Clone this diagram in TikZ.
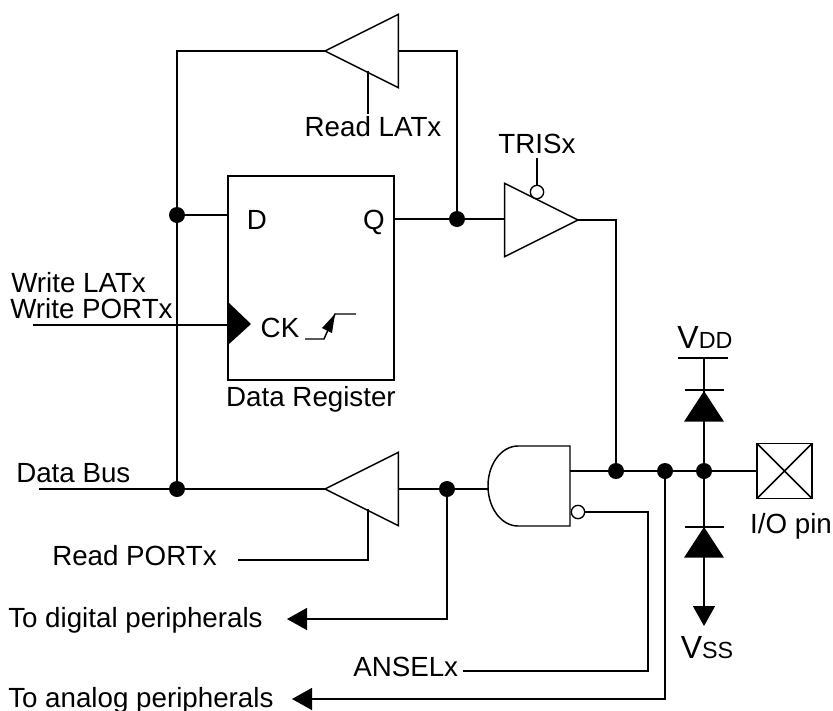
\documentclass[tikz,border=0pt]{standalone}
\usepackage{fontspec}
\setmainfont{Liberation Sans}
\usetikzlibrary{arrows.meta,shapes.geometric}
\tikzset{
	wire/.style={line width=1.1pt},
	lbl/.style={inner sep=0pt,anchor=base,font=\fontsize{20.8}{24}\selectfont},
	lbl west/.style={lbl,anchor=base west},
	dot/.style={circle,fill=black,inner sep=0pt,minimum size=12pt},
	bubble/.style={circle,draw,fill=white,line width=1pt,inner sep=0pt,minimum size=10pt},
	buffer/.style={isosceles triangle,isosceles triangle stretches,draw,line width=1.1pt,inner sep=0pt,outer sep=0pt,minimum width=55pt,minimum height=55pt},
	diode/.style={isosceles triangle,isosceles triangle stretches,fill=black,shape border rotate=90,inner sep=0pt,outer sep=0pt,minimum width=30pt,minimum height=23pt,anchor=apex},
	tap/.style={wire,-{Triangle[length=15pt,width=16.5pt]}}
}
\newcommand{\bigV}[1]{{\fontsize{24}{24}\selectfont V}{\fontsize{17.5}{24}\selectfont #1}}
\begin{document}
\begin{tikzpicture}[x=0.75pt,y=-0.75pt]
	\useasboundingbox (0,0) rectangle (833,711);

	% register
	\node[draw,line width=1.1pt,inner sep=0pt,outer sep=0pt,minimum width=124.5pt,minimum height=153pt,anchor=north west] (R) at (228,176) {};
	\node[lbl] (D) at (257,229) {D};
	\node[lbl] (Q) at (374,229) {Q};
	\node[lbl] (CK) at (280,337) {CK};
	\node[lbl] (DR) at (311,406) {Data Register};
	\fill (228,302) -- (251,324) -- (228,345) -- cycle;
	\draw[wire] (305,339) -- (324,339) -- (335,314) -- (356,314);
	\fill (335,314) -- (322,328) -- (332,333) -- cycle;

	% buffers
	\node[buffer,shape border rotate=180,anchor=apex] (BL) at (325,51) {};
	\node[buffer,shape border rotate=180,anchor=apex] (BP) at (325,489) {};
	\node[buffer,anchor=apex] (BT) at (578,220) {};

	% gate
	\draw[wire] (570,446) -- (518,446) arc[start angle=270,end angle=90,x radius=30,y radius=40] -- (570,526) -- cycle;
	\coordinate (Gin) at (488,489);
	\coordinate (Gout) at (570,471);
	\node[bubble] (Gn) at (578,512) {};

	% pin
	\node[draw,line width=1.1pt,inner sep=0pt,outer sep=0pt,minimum size=41.25pt] (P) at (784.5,471) {};
	\draw[wire] (P.north west) -- (P.south east) (P.north east) -- (P.south west);
	\node[lbl] (Pl) at (791,533) {I/O pin};

	% junctions
	\node[dot] (j1) at (177,215) {};
	\node[dot] (j2) at (177,489) {};
	\node[dot] (j3) at (457,219) {};
	\node[dot] (j4) at (447,489) {};
	\node[dot] (j5) at (616,471) {};
	\node[dot] (j6) at (665,471) {};
	\node[dot] (j7) at (704,471) {};

	% labels
	\node[lbl west] (WL) at (11,292) {Write LATx};
	\node[lbl west] (WP) at (10,318) {Write PORTx};
	\node[lbl west] (DB) at (16,482) {Data Bus};
	\node[lbl west] (RP) at (52,565) {Read PORTx};
	\node[lbl west] (TD) at (8,627) {To digital peripherals};
	\node[lbl west] (AN) at (353,676) {ANSELx};
	\node[lbl west] (TA) at (8,707) {To analog peripherals};
	\node[lbl] (RL) at (373,136) {Read LATx};
	\node[lbl] (TR) at (537,153) {TRISx};
	\node[lbl] (VD) at (705,348) {\bigV{DD}};
	\node[lbl] (VS) at (707,658) {\bigV{SS}};

	% free ends
	\coordinate (a1) at (177,51);
	\coordinate (a2) at (457,51);
	\coordinate (a3) at (616,220);
	\coordinate (c0) at (33,325);
	\coordinate (b0) at (39,489);
	\coordinate (s1) at (368,71);
	\coordinate (s2) at (368,114);
	\coordinate (s3) at (368,509);
	\coordinate (s4) at (368,560);
	\coordinate (s5) at (238,560);
	\coordinate (t1) at (537,158);
	\coordinate (t2) at (537,186);
	\coordinate (e1) at (447,619);
	\coordinate (e2) at (287,619);
	\coordinate (f1) at (665,699);
	\coordinate (f2) at (292,699);
	\coordinate (n1) at (648,512);
	\coordinate (n2) at (648,671);
	\coordinate (n3) at (463,671);
	\coordinate (v1) at (704,358);
	\coordinate (v2) at (704,626);

	% wires
	\draw[wire] (BL.apex) -- (a1) -- (j2);
	\draw[wire] (BL.lower side |- BL.apex) -- (a2) -- (j3);
	\draw[wire] (j1) -- (j1 -| R.west);
	\draw[wire] (R.east |- j3) -- (j3) -- (BT.lower side |- j3);
	\draw[wire] (BT.apex) -- (a3) -- (j5);
	\draw[wire] (c0) -- (c0 -| R.west);
	\draw[wire] (b0) -- (BP.apex);
	\draw[wire] (BP.lower side |- BP.apex) -- (j4) -- (Gin);
	\draw[wire] (s1) -- (s2);
	\draw[wire] (s3) -- (s4) -- (s5);
	\draw[wire] (t1) -- (t2);
	\node[bubble] (Tn) at (537,192) {};
	\draw[tap] (j4) -- (e1) -- (e2);
	\draw[wire] (Gn) -- (n1) -- (n2) -- (n3);
	\draw[tap] (j6) -- (f1) -- (f2);
	\draw[wire] (Gout) -- (P.west);

	% diodes
	\draw[tap] (v1) -- (v2);
	\draw[wire] (678,358) -- (728,358);
	\node[diode] (U) at (704,391) {};
	\draw[wire] (685,390) -- (724,390);
	\node[diode] (L) at (704,527) {};
	\draw[wire] (685,527) -- (724,527);
\end{tikzpicture}
\end{document}
